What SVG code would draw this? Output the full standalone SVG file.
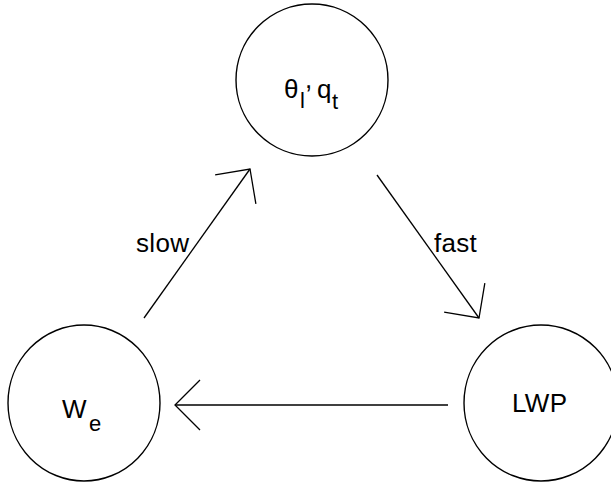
<svg xmlns="http://www.w3.org/2000/svg" width="611" height="486" viewBox="0 0 611 486">
  <style>
    .node { fill: #fff; stroke: #000; stroke-width: 1.4; }
    .edge { fill: none; stroke: #000; stroke-width: 1.3; }
    text { font-family: "Liberation Sans", Arial, sans-serif; fill: #000; }
    .lbl { font-size: 26px; letter-spacing: 0.3px; }
    .sub { font-size: 22px; }
  </style>
  <defs>
    <marker id="open-arrow" markerUnits="userSpaceOnUse" viewBox="-30 -30 60 60" markerWidth="60" markerHeight="60" refX="0" refY="0" orient="auto" overflow="visible">
      <path d="M-25,-25 L0,0 L-25,25" fill="none" stroke="#000" stroke-width="1.3"/>
    </marker>
  </defs>

  <rect width="611" height="486" fill="#fff"/>

  <g id="edges">
    <line class="edge" x1="144" y1="318" x2="250" y2="169" marker-end="url(#open-arrow)"/>
    <line class="edge" x1="377" y1="175" x2="479" y2="318" marker-end="url(#open-arrow)"/>
    <line class="edge" x1="448" y1="405" x2="175" y2="405" marker-end="url(#open-arrow)"/>
    <text class="lbl" x="136" y="252">slow</text>
    <text class="lbl" x="434" y="252">fast</text>
  </g>

  <g id="node-theta-q">
    <circle class="node" cx="312" cy="80" r="76"/>
    <text class="lbl" x="284" y="98">θ</text>
    <text class="sub" x="300" y="108">l</text>
    <text class="lbl" x="305" y="88">,</text>
    <text class="lbl" x="317" y="98">q</text>
    <text class="sub" x="332" y="109">t</text>
  </g>

  <g id="node-we">
    <ellipse class="node" cx="84" cy="403" rx="76" ry="78"/>
    <text class="lbl" x="62" y="418">W</text>
    <text class="sub" x="89" y="431">e</text>
  </g>

  <g id="node-lwp">
    <ellipse class="node" cx="541" cy="403" rx="77" ry="78"/>
    <text class="lbl" x="512" y="412">LWP</text>
  </g>
</svg>
